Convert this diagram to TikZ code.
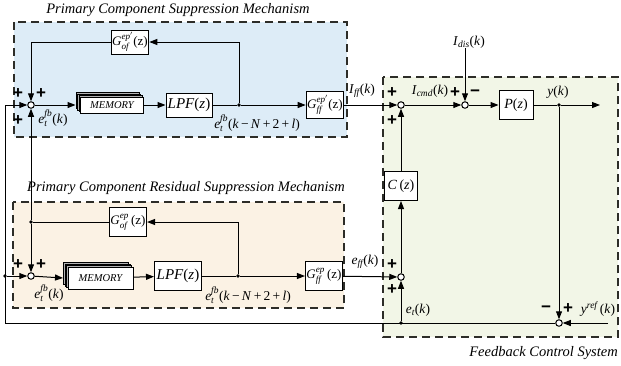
\documentclass[tikz,border=0pt]{standalone}
\usepackage{amsmath}
\usepackage{fontspec}
\setmainfont{Liberation Serif}
\newfontfamily\pmfont{Liberation Sans}
\usetikzlibrary{arrows.meta,calc}
\definecolor{blueR}{RGB}{221,236,247}
\definecolor{orangeR}{RGB}{251,242,228}
\definecolor{greenR}{RGB}{242,246,231}
\definecolor{dashC}{RGB}{45,45,40}
\newcommand{\ti}{\textit}
\tikzset{
  ln/.style={line width=1pt},
  arr/.style={ln,-{Triangle[length=8pt,width=6pt]}},
  blk/.style={draw,ln,fill=white,inner sep=1pt,font=\fontsize{13}{15}\selectfont},
  sumj/.style={circle,draw,ln,fill=white,inner sep=0pt,minimum size=6.5pt},
  dotn/.style={circle,fill,inner sep=0pt,minimum size=3.8pt},
  region/.style={dash pattern=on 8pt off 5pt,line width=1.8pt,draw=dashC},
  ttl/.style={font=\fontsize{14.5}{16}\selectfont\itshape,inner sep=0pt},
  lbl/.style={font=\fontsize{13.5}{15}\selectfont,inner sep=0pt},
  pm/.style={font=\pmfont\fontsize{17}{17}\selectfont\bfseries,inner sep=0pt},
  memf/.style={draw,ln,fill=white,inner sep=0pt,font=\fontsize{10.5}{12}\selectfont\itshape},
  memb/.style={draw,line width=0.7pt,fill=gray!60},
}
\begin{document}
\begin{tikzpicture}[x=1pt,y=-1pt]
\useasboundingbox (0,0) rectangle (621,365);
% regions
\filldraw[fill=blueR,region] (14,22) rectangle (347,137);
\filldraw[fill=orangeR,region] (13,202) rectangle (344,308);
\filldraw[fill=greenR,region] (383,77) rectangle (618,337);
\node[ttl] (t1) at (178,10) {Primary Component Suppression Mechanism};
\node[ttl] (t2) at (186,188) {Primary Component Residual Suppression Mechanism};
\node[ttl,anchor=east] (t3) at (618,353) {Feedback Control System};

% memory stacks (back layers)
\foreach \d in {4.5,3,1.5} {
  \draw[memb] (80.5-\d,97-\d) rectangle (143.5-\d,113-\d);
  \draw[memb] (68-\d,267-\d) rectangle (133-\d,289-\d);
}

% summing junctions
\node[sumj] (s1) at (31,105) {};
\node[sumj] (s2) at (31,276) {};
\node[sumj] (s3) at (401,105) {};
\node[sumj] (s4) at (465,105) {};
\node[sumj] (sc) at (401,277) {};
\node[sumj] (sr) at (559,323) {};

% blocks top
\node[blk,minimum width=36pt,minimum height=24pt] (gof1) at (130,42) {$\ti{G}^{\ti{ep}'}_{\ti{of}}$(z)};
\node[memf,minimum width=63pt,minimum height=16pt] (mem1) at (112,105) {MEMORY};
\node[blk,minimum width=46pt,minimum height=24pt,font=\fontsize{15}{17}\selectfont] (lpf1) at (189,105) {\ti{LPF}(\ti{z})};
\node[blk,minimum width=37pt,minimum height=27pt] (gff1) at (325,105) {$\ti{G}^{\ti{ep}'}_{\ti{ff}}$(z)};
\node[dotn] (d1) at (239,105) {};

% blocks bottom
\node[blk,minimum width=37pt,minimum height=29pt] (gof2) at (128,222) {$\ti{G}^{\ti{ep}}_{\ti{of}}$\,(z)};
\node[memf,minimum width=65pt,minimum height=22pt] (mem2) at (100.5,278) {MEMORY};
\node[blk,minimum width=47pt,minimum height=29pt,font=\fontsize{15}{17}\selectfont] (lpf2) at (178,276) {\ti{LPF}(\ti{z})};
\node[blk,minimum width=37pt,minimum height=29pt] (gff2) at (324,276) {$\ti{G}^{\ti{ep}}_{\ti{ff}}$\,(z)};
\node[dotn] (d2) at (238,276) {};
\node[dotn] (d3) at (31,222) {};

% feedback system blocks
\node[blk,minimum width=34pt,minimum height=29pt,font=\fontsize{14}{16}\selectfont] (pz) at (516,105) {\ti{P}(\ti{z})};
\node[blk,minimum width=33pt,minimum height=29pt,font=\fontsize{14}{16}\selectfont] (cz) at (401,186) {\ti{C}\,(\ti{z})};
\node[dotn] (dy) at (559,105) {};
\node[dotn] (de) at (401,323) {};
\node[dotn] (dl) at (5,276) {};
\coordinate (lt) at (5,105);
\coordinate (lb) at (5,323);
\coordinate (yout) at (600,105);
\coordinate (yref) at (608,323);

% connectors top
\draw[arr] (s1) -- ($(mem1.west)+(-4.5,0)$);
\draw[arr] (mem1) -- (lpf1);
\draw[ln] (lpf1) -- (d1);
\draw[arr] (d1) -- (gff1);
\draw[arr] (d1) |- (gof1);
\draw[arr] (gof1) -| (s1);
\draw[arr] (gff1) -- (s3);
% connectors bottom
\draw[arr] (s2) -- ($(mem2.west)+(-4.5,0)$);
\draw[arr] (mem2) -- (lpf2);
\draw[ln] (lpf2) -- (d2);
\draw[arr] (d2) -- (gff2);
\draw[arr] (d2) |- (gof2);
\draw[ln] (gof2) -- (d3);
\draw[arr] (d3) -- (s1);
\draw[arr] (d3) -- (s2);
\draw[arr] (gff2) -- (sc);
% feedback
\draw[arr] (sr) -- (lb) -- (lt) -- (s1);
\draw[arr] (dl) -- (s2);
\draw[arr] (de) -- (sc);
\draw[arr] (sc) -- (cz);
\draw[arr] (cz) -- (s3);
\draw[arr] (s3) -- (s4);
\draw[arr] (s4) -- (pz);
\draw[ln] (pz) -- (dy);
\draw[arr] (dy) -- (yout);
\draw[arr] (dy) -- (sr);
\draw[arr] (yref) -- (sr);
\node[lbl] (idis) at (469,42) {\ti{I}$_{\ti{dis}}$(\ti{k})};
\draw[arr] (idis.south -| s4) -- (s4);

% labels
\node[lbl] (l1) at (53,118) {$\ti{e}^{\ti{fb}}_{\ti{t}}$(\ti{k})};
\node[lbl] (l2) at (257,123) {$\ti{e}^{\ti{fb}}_{\ti{t}}$(\ti{k}\,−\,\ti{N}\,+\,2\,+\,\ti{l})};
\node[lbl] (l3) at (49,293) {$\ti{e}^{\ti{fb}}_{\ti{t}}$(\ti{k})};
\node[lbl] (l4) at (248,295) {$\ti{e}^{\ti{fb}}_{\ti{t}}$(\ti{k}\,−\,\ti{N}\,+\,2\,+\,\ti{l})};
\node[lbl] (l5) at (362,91) {\ti{I}$_{\ti{ff}}$(\ti{k})};
\node[lbl] (l6) at (430,91) {\ti{I}$_{\ti{cmd}}$(\ti{k})};
\node[lbl] (l7) at (558,92) {\ti{y}(\ti{k})};
\node[lbl] (l8) at (365,262) {\ti{e}$_{\ti{ff}}$(\ti{k})};
\node[lbl] (l9) at (418,310) {\ti{e}$_{\ti{t}}$(\ti{k})};
\node[lbl] (l10) at (598,309) {\ti{y}$^{\ti{ref}}$\,(\ti{k})};

% signs
\node[pm] at (18,94) {+};
\node[pm] at (41,94) {+};
\node[pm] at (18,121) {+};
\node[pm] at (18,265) {+};
\node[pm] at (41,265) {+};
\node[pm] at (392,93) {+};
\node[pm] at (392,121) {+};
\node[pm] at (455,93) {+};
\node[pm] at (475,93) {−};
\node[pm] at (392,265) {+};
\node[pm] at (392,290) {+};
\node[pm] at (546,309) {−};
\node[pm] at (568,309) {+};
\end{tikzpicture}
\end{document}
